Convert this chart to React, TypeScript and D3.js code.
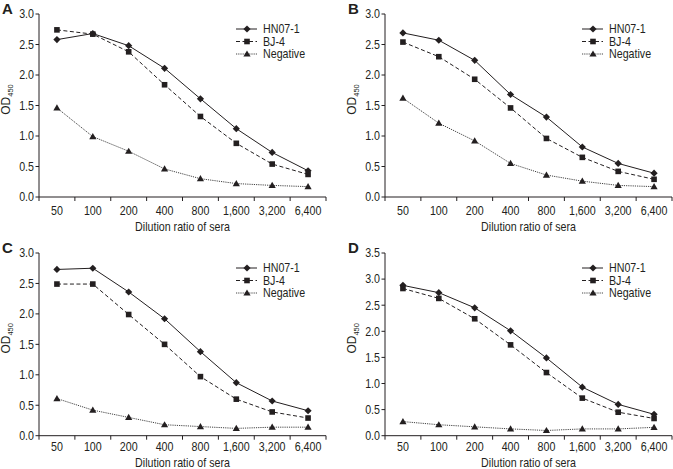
import React from "react";
import * as d3 from "d3";

const dilutions = ["50", "100", "200", "400", "800", "1,600", "3,200", "6,400"];
const seriesNames = ["HN07-1", "BJ-4", "Negative"];

const hnA = [2.58, 2.68, 2.48, 2.11, 1.61, 1.12, 0.73, 0.43];
const bjA = [2.74, 2.67, 2.38, 1.84, 1.32, 0.88, 0.54, 0.37];
const negA = [1.46, 0.99, 0.75, 0.46, 0.3, 0.22, 0.19, 0.17];

const hnB = [2.69, 2.57, 2.24, 1.68, 1.31, 0.82, 0.55, 0.39];
const bjB = [2.54, 2.3, 1.93, 1.46, 0.96, 0.65, 0.42, 0.29];
const negB = [1.62, 1.21, 0.92, 0.55, 0.36, 0.26, 0.19, 0.17];

const hnC = [2.73, 2.75, 2.36, 1.92, 1.38, 0.87, 0.57, 0.41];
const bjC = [2.49, 2.49, 1.99, 1.5, 0.97, 0.6, 0.39, 0.29];
const negC = [0.61, 0.42, 0.3, 0.18, 0.15, 0.12, 0.14, 0.14];

const hnD = [2.88, 2.74, 2.45, 2.01, 1.49, 0.93, 0.6, 0.41];
const bjD = [2.82, 2.63, 2.24, 1.74, 1.21, 0.72, 0.45, 0.33];
const negD = [0.27, 0.21, 0.17, 0.13, 0.1, 0.13, 0.13, 0.16];

const FONT = "'Liberation Sans', Arial, sans-serif";
const INK = "#231f20";
// 原图整体被横向压扁了一点，文字也跟着压
const SQUASH = 0.89;

// 三种线型：实线 / 虚线 / 点线
const lineStyles = [
  { dash: "none", color: INK, marker: "diamond" },
  { dash: "4,2.5", color: INK, marker: "square" },
  { dash: "1.2,1", color: "#444", marker: "triangle" },
];

function Txt(props: {
  x: number;
  y: number;
  size: number;
  anchor?: string;
  dy?: string;
  children: React.ReactNode;
}) {
  const { x, y, size, anchor, dy, children } = props;
  return (
    <g transform={`translate(${x},${y}) scale(${SQUASH},1)`}>
      <text
        textAnchor={anchor || "start"}
        dy={dy}
        fontSize={size}
        fontFamily={FONT}
        fill={INK}
      >
        {children}
      </text>
    </g>
  );
}

function Marker({ kind, x, y }: { kind: string; x: number; y: number }) {
  if (kind === "diamond") {
    const r = 3.6;
    return <path d={`M${x},${y - r}L${x + r},${y}L${x},${y + r}L${x - r},${y}Z`} fill={INK} />;
  }
  if (kind === "square") {
    const s = 5.6;
    return <rect x={x - s / 2} y={y - s / 2} width={s} height={s} fill={INK} />;
  }
  const w = 3.6;
  return <path d={`M${x},${y - 3.6}L${x + w},${y + 2.6}L${x - w},${y + 2.6}Z`} fill={INK} />;
}

type PanelProps = {
  label: string;
  left: number;
  right: number;
  top: number;
  bottom: number;
  yMax: number;
  series: number[][];
  tickLabelDy: number;
  titleDy: number;
};

function Panel({ label, left, right, top, bottom, yMax, series, tickLabelDy, titleDy }: PanelProps) {
  const x = d3.scaleBand<string>().domain(dilutions).range([left, right]).padding(0);
  const y = d3.scaleLinear().domain([0, yMax]).range([bottom, top]);
  const cx = (d: string) => (x(d) as number) + x.bandwidth() / 2;
  const yTicks = d3.range(0, yMax + 0.001, 0.5);
  const fmt = d3.format(".1f");
  const boundaries = dilutions.map((d) => x(d) as number).concat([right]);

  const line = d3
    .line<number>()
    .x((_, i) => cx(dilutions[i]))
    .y((v) => y(v));

  const midY = (top + bottom) / 2 - 6;
  const legX = right - 90;
  const legY = top + 15;

  return (
    <g>
      <text x={left - 37} y={top} fontSize={15} fontWeight="bold" fontFamily={FONT} fill={INK}>
        {label}
      </text>

      {/* y 轴 */}
      <line x1={left} x2={left} y1={top} y2={bottom} stroke={INK} strokeWidth={1} />
      {yTicks.map((t) => (
        <g key={t}>
          <line x1={left - 3.5} x2={left} y1={y(t)} y2={y(t)} stroke={INK} />
          <Txt x={left - 5} y={y(t)} dy="0.36em" anchor="end" size={12}>
            {fmt(t)}
          </Txt>
        </g>
      ))}
      <text
        transform={`translate(${left - 29},${midY}) rotate(-90)`}
        textAnchor="middle"
        fontSize={12}
        fontFamily={FONT}
        fill={INK}
      >
        OD
        <tspan fontSize={7.5} dy={3}>
          450
        </tspan>
      </text>

      {/* x 轴 */}
      <line x1={left} x2={right} y1={bottom} y2={bottom} stroke={INK} strokeWidth={1} />
      {boundaries.map((b, i) => (
        <line key={i} x1={b} x2={b} y1={bottom} y2={bottom + 4} stroke={INK} />
      ))}
      {dilutions.map((d) => (
        <Txt key={d} x={cx(d)} y={bottom + tickLabelDy} anchor="middle" size={12}>
          {d}
        </Txt>
      ))}
      <Txt x={(left + right) / 2} y={bottom + titleDy} anchor="middle" size={12}>
        Dilution ratio of sera
      </Txt>

      {/* 数据线 */}
      {series.map((vals, si) => (
        <g key={si}>
          <path
            d={line(vals) || ""}
            fill="none"
            stroke={lineStyles[si].color}
            strokeWidth={1}
            strokeDasharray={lineStyles[si].dash}
          />
          {vals.map((v, i) => (
            <Marker key={i} kind={lineStyles[si].marker} x={cx(dilutions[i])} y={y(v)} />
          ))}
        </g>
      ))}

      {/* 图例 */}
      {seriesNames.map((name, si) => {
        const ly = legY + si * 12.5;
        return (
          <g key={name}>
            <line
              x1={legX}
              x2={legX + 21}
              y1={ly}
              y2={ly}
              stroke={lineStyles[si].color}
              strokeDasharray={lineStyles[si].dash}
            />
            <Marker kind={lineStyles[si].marker} x={legX + 11} y={ly} />
            <Txt x={legX + 27} y={ly} dy="0.36em" size={12}>
              {name}
            </Txt>
          </g>
        );
      })}
    </g>
  );
}

export default function App() {
  return (
    <svg
      width={673}
      height={469}
      viewBox="0 0 673 469"
      style={{ position: "absolute", left: 0, top: 0, background: "#fff" }}
    >
      <Panel label="A" left={39} right={326} top={14} bottom={197} yMax={3}
        series={[hnA, bjA, negA]} tickLabelDy={18} titleDy={34} />
      <Panel label="B" left={385} right={672} top={14} bottom={197} yMax={3}
        series={[hnB, bjB, negB]} tickLabelDy={18} titleDy={34} />
      <Panel label="C" left={39} right={326} top={253} bottom={435.7} yMax={3}
        series={[hnC, bjC, negC]} tickLabelDy={15.5} titleDy={31.5} />
      <Panel label="D" left={385} right={672} top={253} bottom={435.7} yMax={3.5}
        series={[hnD, bjD, negD]} tickLabelDy={15.5} titleDy={31.5} />
    </svg>
  );
}
